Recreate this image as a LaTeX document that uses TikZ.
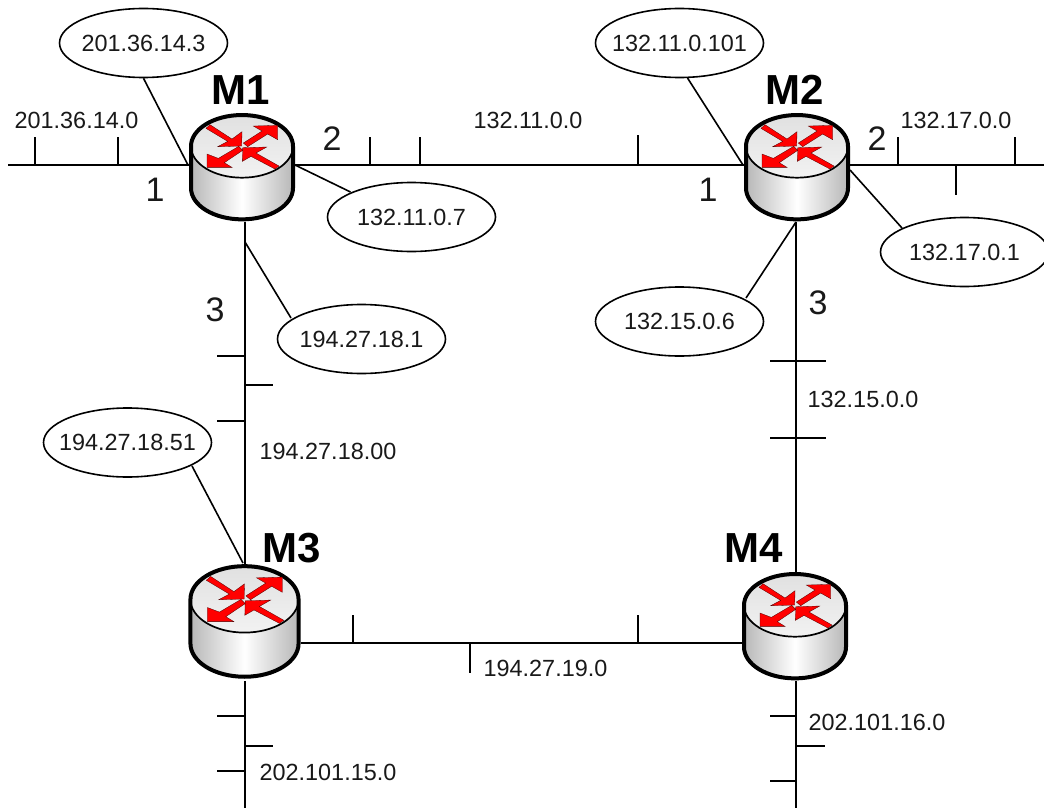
\documentclass[tikz,border=0pt]{standalone}
\usepackage{fontspec}
\setmainfont{Liberation Sans}
\definecolor{arrowred}{RGB}{255,0,0}
\definecolor{sidegray}{gray}{0.72}
\definecolor{topgray}{gray}{0.88}
\definecolor{textink}{gray}{0.1}
\newcommand{\ctext}[1]{\makebox[0pt][c]{#1}}
\tikzset{
  net/.style={draw=black,line width=1.8pt},
  leader/.style={draw=black,line width=1.6pt},
  addr/.style={draw=black,line width=1.6pt,fill=white,ellipse,inner sep=0pt,minimum width=168pt,minimum height=69pt,text=textink,font=\fontsize{23.4}{26}\selectfont},
  lab/.style={text=textink,font=\fontsize{23.4}{26}\selectfont,inner sep=0pt},
  num/.style={text=textink,font=\fontsize{34}{38}\selectfont,inner sep=0pt},
  rname/.style={font=\fontsize{42}{46}\selectfont\bfseries,inner sep=0pt},
  routerbox/.style={minimum width=106pt,minimum height=109pt,inner sep=0pt,draw=none},
  redarrow/.style={fill=arrowred,draw=black!70!red,line width=.3pt,line join=miter}
}
\usetikzlibrary{shapes.geometric}
\newcommand{\routerart}[3]{%
\begin{scope}[shift={(#1-72*#3,#2-23.3*#3)},scale=#3,x=.33333pt,y=-.33333pt]
  \path[left color=sidegray,right color=sidegray,middle color=white]
    (63,170) -- (63,295) arc[x radius=153,y radius=94,start angle=180,end angle=0] -- (369,170) -- cycle;
  \path[top color=topgray,bottom color=white!95!black]
    (216,170) ellipse[x radius=153,y radius=94];
  \draw[line width=1.7pt] (63,170) arc[x radius=153,y radius=94,start angle=180,end angle=0];
  \draw[line width=4pt,line join=round]
    (63,295) -- (63,170) arc[x radius=153,y radius=94,start angle=180,end angle=360] -- (369,295)
    arc[x radius=153,y radius=94,start angle=0,end angle=180];
  \path[redarrow] (108,116) -- (120,105) -- (186,148) -- (216,126) -- (215,169) -- (143,171) -- (173,155) -- cycle;
  \path[redarrow] (220,160) -- (276,124) -- (250,109) -- (323,107) -- (323,150) -- (293,133) -- (233,171) -- cycle;
  \path[redarrow] (206,170) -- (145,206) -- (111,193) -- (111,233) -- (186,233) -- (163,219) -- (218,182) -- cycle;
  \path[redarrow] (327,229) -- (258,190) -- (290,172) -- (218,174) -- (217,215) -- (243,200) -- (315,238) -- cycle;
\end{scope}}
\begin{document}
\begin{tikzpicture}[x=1pt,y=-1pt]
\useasboundingbox (0,0) rectangle (1044,808);
\node[routerbox] (M1) at (242,167.5) {};
\node[routerbox] (M2) at (797,167.5) {};
\node[routerbox,minimum width=112pt,minimum height=117pt] (M3) at (244.5,622.5) {};
\node[routerbox] (M4) at (796,626.5) {};
% free ends
\coordinate (w) at (8,165);
\coordinate (e) at (1044,165);
\coordinate (s1) at (245,808);
\coordinate (s2) at (796,808);
\coordinate (rowA) at (0,165);
\coordinate (rowB) at (0,643);
\coordinate (colA) at (245,0);
\coordinate (colB) at (796,0);
% main lines
\draw[net] (w) -- (M1.west |- rowA);
\draw[net] (M1.east |- rowA) -- (M2.west |- rowA);
\draw[net] (M2.east |- rowA) -- (e);
\draw[net] (colA |- M1.south) -- (colA |- M3.north);
\draw[net] (colB |- M2.south) -- (colB |- M4.north);
\draw[net] (M3.east |- rowB) -- (M4.west |- rowB);
\draw[net] (colA |- M3.south) -- (s1);
\draw[net] (colB |- M4.south) -- (s2);
% ticks on horizontal lines
\foreach \n/\xa/\ya/\yb in {a/35/137/165,b/118/137/165,c/370/137/165,d/420/137/165,e/638/135/165,f/898/137/165,g/1015/137/165,h/956/165/195,i/353/615/643,j/638/615/643,k/470/643/673}{
  \coordinate (t\n1) at (\xa,\ya);
  \coordinate (t\n2) at (\xa,\yb);
  \draw[net] (t\n1) -- (t\n2);
}
% ticks on vertical lines
\foreach \n/\xa/\xb/\ya in {a/217/245/356,b/245/273/385,c/217/245/421,d/770/826/361,e/770/826/438,f/217/245/716,g/245/273/746,h/217/245/771,i/770/796/716,j/796/825/746,k/770/796/781}{
  \coordinate (v\n1) at (\xa,\ya);
  \coordinate (v\n2) at (\xb,\ya);
  \draw[net] (v\n1) -- (v\n2);
}
% address ellipses
\node[addr] (e1) at (143.5,43) {\ctext{201.36.14.3}};
\node[addr] (e2) at (679.5,43) {\ctext{132.11.0.101}};
\node[addr] (e3) at (411.5,217) {\ctext{132.11.0.7}};
\node[addr] (e4) at (964.5,252) {\ctext{132.17.0.1}};
\node[addr] (e5) at (361.5,339) {\ctext{194.27.18.1}};
\node[addr] (e6) at (679.5,321.5) {\ctext{132.15.0.6}};
\node[addr] (e7) at (127.5,442.5) {\ctext{194.27.18.51}};
% leaders
\coordinate (l1) at (188,165);
\coordinate (l2) at (743,165);
\coordinate (l3) at (295,165);
\coordinate (l4) at (850,170);
\coordinate (l5) at (245,242);
\coordinate (l6) at (796,222);
\coordinate (l7) at (243,563);
\draw[leader] (e1.south) -- (l1);
\draw[leader] (e2) ++(8,35) -- (l2);
\draw[leader] (e3) ++(-61,-25) -- (l3);
\draw[leader] (e4) ++(-62.5,-24) -- (l4);
\draw[leader] (e5) ++(-70.5,-21) -- (l5);
\draw[leader] (e6) ++(66.5,-23.5) -- (l6);
\draw[leader] (e7) ++(64.5,23.5) -- (l7);
% routers
\routerart{242}{113}{1}
\routerart{797}{113}{1}
\routerart{244.5}{564}{1.06}
\routerart{795}{572}{1}
% labels
\node[rname] (nM1) at (241,90) {M1};
\node[rname] (nM2) at (795,90) {M2};
\node[rname] (nM3) at (292,548) {M3};
\node[rname] (nM4) at (754,548) {M4};
\node[num] (n1) at (155,190) {1};
\node[num] (n2) at (332,139) {2};
\node[num] (n3) at (215,310) {3};
\node[num] (n4) at (708,190) {1};
\node[num] (n5) at (877,139) {2};
\node[num] (n6) at (818,303) {3};
\node[lab] (a1) at (76.5,120) {201.36.14.0};
\node[lab] (a2) at (528,120) {132.11.0.0};
\node[lab] (a3) at (956,120) {132.17.0.0};
\node[lab] (a4) at (863,399) {132.15.0.0};
\node[lab] (a5) at (328,451) {194.27.18.00};
\node[lab] (a6) at (545.5,668) {194.27.19.0};
\node[lab] (a7) at (877,722) {202.101.16.0};
\node[lab] (a8) at (328,772) {202.101.15.0};
\end{tikzpicture}
\end{document}
